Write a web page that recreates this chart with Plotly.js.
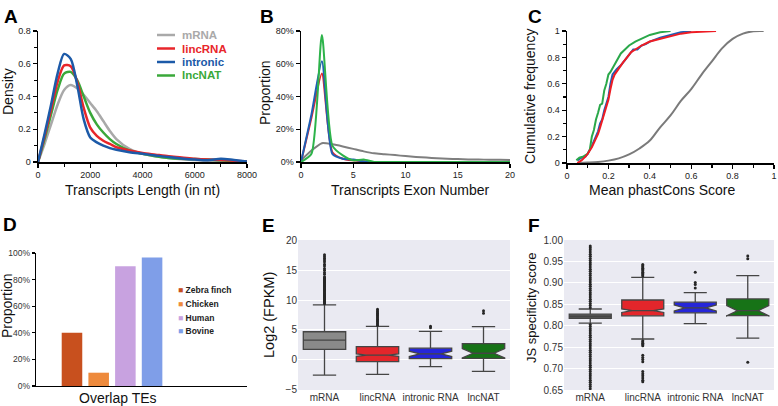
<!DOCTYPE html>
<html>
<head>
<meta charset="utf-8">
<script src="https://cdn.plot.ly/plotly-3.0.1.min.js"></script>
<style>html,body{margin:0;padding:0;background:#fff;}#chart{width:778px;height:406px;}</style>
</head>
<body>
<div id="chart"></div>
<script>
// ---------- Data ----------
const seriesNames = ['mRNA', 'lincRNA', 'intronic', 'lncNAT'];
// Panel A: transcript length density
const lenX = [0,250,500,750,1000,1250,1500,1750,2000,2250,2500,2750,3000,3500,4000,4500,5000,5500,6000,6500,7000,7500,8000];
const lenMRNA     = [0,0.11,0.23,0.35,0.44,0.47,0.45,0.41,0.36,0.31,0.25,0.19,0.14,0.08,0.05,0.035,0.025,0.017,0.012,0.008,0.006,0.004,0.002];
const lenLincRNA  = [0,0.155,0.32,0.49,0.59,0.585,0.49,0.33,0.21,0.16,0.13,0.11,0.09,0.07,0.055,0.045,0.035,0.028,0.02,0.015,0.012,0.008,0.003];
const lenIntronic = [0,0.17,0.35,0.54,0.66,0.63,0.47,0.26,0.15,0.12,0.10,0.085,0.075,0.06,0.05,0.04,0.03,0.022,0.015,0.01,0.02,0.012,0.003];
const lenLncNAT   = [0,0.14,0.29,0.44,0.54,0.55,0.50,0.40,0.30,0.23,0.18,0.14,0.11,0.07,0.05,0.035,0.025,0.02,0.018,0.015,0.01,0.006,0.002];
// Panel B: exon number proportion (%)
const exonX = [0,1,2,3,4,5,6,7,8,9,10,11,12,13,14,15,16,17,18,19,20];
const exonMRNA     = [1,7,11.5,10.8,9.5,8,6.5,5.3,4.8,4.2,3.6,3.1,2.7,2.3,2.0,1.8,1.6,1.5,1.4,1.3,1.2];
const exonLincRNA  = [0,27,54,6,2,1,0.5,0,0,0,0,0,0,0,0,0,0,0,0,0,0];
const exonIntronic = [0,29,61.5,5,2,1.5,0.3,0,0,0,0,0,0,0,0,0,0,0,0,0,0];
const exonLncNAT   = [0,5,77.5,10,4,1,1.5,0,0,0,0,0,0,0,0,0,0,0,0,0,0];
// Panel C: cumulative frequency of mean phastCons score
const consMRNAx = [0.05,0.1,0.15,0.2,0.25,0.3,0.35,0.4,0.45,0.5,0.55,0.6,0.65,0.7,0.75,0.8,0.85,0.9,0.95];
const consMRNAy = [0,0.003,0.008,0.018,0.035,0.065,0.11,0.17,0.27,0.36,0.47,0.56,0.67,0.77,0.87,0.94,0.98,0.998,1];
const consLncNATx = [0.045,0.06,0.08,0.1,0.11,0.12,0.13,0.14,0.15,0.16,0.17,0.18,0.19,0.2,0.21,0.22,0.24,0.26,0.28,0.3,0.33,0.36,0.4,0.45,0.5];
const consLncNATy = [0.02,0.04,0.05,0.07,0.1,0.2,0.25,0.33,0.38,0.44,0.45,0.55,0.6,0.67,0.69,0.72,0.77,0.83,0.86,0.89,0.92,0.94,0.97,0.99,1.0];
const consLincx = [0.05,0.07,0.09,0.1,0.12,0.14,0.15,0.16,0.17,0.18,0.19,0.2,0.21,0.22,0.23,0.25,0.27,0.29,0.31,0.33,0.36,0.4,0.45,0.5,0.55,0.6,0.65,0.72];
const consLincy = [0,0.02,0.05,0.07,0.12,0.18,0.22,0.27,0.32,0.38,0.43,0.48,0.56,0.63,0.67,0.72,0.76,0.8,0.84,0.86,0.89,0.92,0.94,0.96,0.98,0.99,0.995,1.0];
const consIntrx = [0.05,0.07,0.09,0.1,0.12,0.14,0.15,0.16,0.17,0.18,0.19,0.2,0.21,0.22,0.24,0.26,0.28,0.3,0.32,0.34,0.36,0.38,0.4,0.45,0.5,0.55,0.6];
const consIntry = [0.02,0.04,0.05,0.07,0.13,0.2,0.24,0.3,0.33,0.4,0.45,0.5,0.6,0.67,0.71,0.74,0.78,0.82,0.86,0.86,0.89,0.9,0.92,0.95,0.97,0.99,1.0];
// Panel D: overlap with TEs
const teCategory = 'Overlap TEs';
const teSpecies = ['Zebra finch', 'Chicken', 'Human', 'Bovine'];
const teValues = [40, 10, 90, 96.7];
// Panel E/F categories
const boxCats = ['mRNA', 'lincRNA', 'intronic RNA', 'lncNAT'];
// Panel E: Log2(FPKM)
const exprQ1   = [1.75, -0.3, 0.2, 0.25];
const exprMed  = [3.3, 0.8, 1.0, 1.1];
const exprQ3   = [4.7, 2.2, 1.95, 2.7];
const exprLow  = [-2.55, -2.45, -1.15, -1.95];
const exprHigh = [9.2, 5.6, 4.75, 5.55];
const exprNotch = [0, 0.2, 0.45, 0.8];
const exprOutMRNA = [9.4,9.55,9.7,9.85,10.0,10.15,10.3,10.45,10.6,10.75,10.9,11.05,11.2,11.35,11.5,11.65,11.8,11.95,12.1,12.25,12.4,12.55,12.7,12.85,13.0,13.15,13.3,13.45,13.6,13.75,13.9,14.3,14.6,15.0,15.3,15.7,16.0,16.4,16.7,17.0,17.3,17.6];
const exprOutLinc = [5.8,6.0,6.2,6.4,6.6,6.8,7.0,7.2,7.4,7.6,7.8,8.0,8.2,8.45];
const exprOutIntr = [5.35,5.6];
const exprOutNAT  = [7.8,8.2];
// Panel F: JS specificity score
const jsQ1   = [0.817, 0.823, 0.830, 0.8235];
const jsMed  = [0.822, 0.835, 0.8415, 0.835];
const jsQ3   = [0.827, 0.860, 0.855, 0.8625];
const jsLow  = [0.806, 0.769, 0.805, 0.771];
const jsHigh = [0.839, 0.913, 0.877, 0.917];
const jsNotch = [0, 0.004, 0.007, 0.012];
const jsOutMRNA = [0.842,0.847,0.852,0.857,0.862,0.867,0.872,0.877,0.882,0.887,0.892,0.897,0.902,0.907,0.912,0.917,0.922,0.927,0.932,0.937,0.942,0.947,0.952,0.957,0.962,0.967,0.972,0.977,0.982,0.986,
  0.803,0.798,0.793,0.788,0.783,0.778,0.773,0.768,0.763,0.758,0.753,0.748,0.743,0.738,0.733,0.728,0.723,0.718,0.713,0.708,0.703,0.698,0.693,0.688,0.683,0.678,0.673,0.668,0.663,0.658,0.653];
const jsOutLinc = [0.916,0.919,0.922,0.925,0.928,0.931,0.934,0.937,0.940,0.943,0.765,0.762,0.759,0.756,0.753,0.731,0.726,0.721,0.716,0.693,0.688,0.683,0.678,0.673,0.669];
const jsOutIntr = [0.888,0.896,0.901,0.925];
const jsOutNAT  = [0.956,0.9625,0.715];

// ---------- Styles ----------
const W = 778, H = 406;
const px = x => x / W;
const py = y => 1 - y / H;
const FONT = 'Liberation Sans, Arial, sans-serif';
const colA = ['#a9a9a9', '#e8262b', '#1c5aa8', '#3aa83a'];
const colB = ['#7f7f7f', '#e8262b', '#1f5fb5', '#2db34a'];
const colC = ['#7a7a7a', '#ee1c24', '#1f5fb5', '#2aa84a'];
const teColors = ['#c8501e', '#ee8a3c', '#c8a2e0', '#7f9ee8'];
const boxFillE = ['#8a8a8a', '#e3262b', '#2626d9', '#177317'];
const boxFillF = ['#555555', '#e3262b', '#2626d9', '#177317'];

const traces = [];
// Panel A
const lenSeries = [lenMRNA, lenLincRNA, lenIntronic, lenLncNAT];
[0, 3, 1, 2].forEach(i => traces.push({
  type: 'scatter', mode: 'lines', x: lenX, y: lenSeries[i], xaxis: 'x', yaxis: 'y',
  name: seriesNames[i], line: {color: colA[i], width: 2.5, shape: 'spline', smoothing: 0.8}, hoverinfo: 'skip'
}));
// Panel B
const exonSeries = [exonMRNA, exonLincRNA, exonIntronic, exonLncNAT];
[0, 1, 2, 3].forEach(i => traces.push({
  type: 'scatter', mode: 'lines', x: exonX, y: exonSeries[i], xaxis: 'x2', yaxis: 'y2',
  name: seriesNames[i], line: {color: colB[i], width: 2, shape: 'spline', smoothing: 0.6}, hoverinfo: 'skip'
}));
// Panel C
const consSeries = [[consMRNAx, consMRNAy, 0, 'spline'], [consIntrx, consIntry, 2, 'linear'], [consLncNATx, consLncNATy, 3, 'linear'], [consLincx, consLincy, 1, 'linear']];
consSeries.forEach(s => traces.push({
  type: 'scatter', mode: 'lines', x: s[0], y: s[1], xaxis: 'x3', yaxis: 'y3',
  name: seriesNames[s[2]], line: {color: colC[s[2]], width: 2, shape: s[3]}, hoverinfo: 'skip'
}));
// Panel D
teSpecies.forEach((sp, i) => traces.push({
  type: 'bar', x: [teCategory], y: [teValues[i]], xaxis: 'x4', yaxis: 'y4', name: sp,
  marker: {color: teColors[i], line: {width: 0}}, hoverinfo: 'skip'
}));
// Panel E & F boxes
function addBoxes(q1, med, q3, lo, hi, notch, fills, outs, xa, ya) {
  boxCats.forEach((c, i) => {
    traces.push({
      type: 'box', x: [c], q1: [q1[i]], median: [med[i]], q3: [q3[i]],
      lowerfence: [lo[i]], upperfence: [hi[i]],
      notched: notch[i] > 0, notchspan: [notch[i] > 0 ? notch[i] : 0.0001], notchwidth: 0.25,
      xaxis: xa, yaxis: ya, width: 0.8, whiskerwidth: 0.55, boxpoints: false,
      fillcolor: fills[i], line: {color: '#454545', width: 1.3}, name: c, hoverinfo: 'skip'
    });
    traces.push({
      type: 'scatter', mode: 'markers', x: outs[i].map(() => c), y: outs[i], xaxis: xa, yaxis: ya,
      marker: {color: '#262626', size: 3}, name: c + ' outliers', hoverinfo: 'skip', cliponaxis: true
    });
  });
}
addBoxes(exprQ1, exprMed, exprQ3, exprLow, exprHigh, exprNotch, boxFillE,
  [exprOutMRNA, exprOutLinc, exprOutIntr, exprOutNAT], 'x5', 'y5');
addBoxes(jsQ1, jsMed, jsQ3, jsLow, jsHigh, jsNotch, boxFillF,
  [jsOutMRNA, jsOutLinc, jsOutIntr, jsOutNAT], 'x6', 'y6');

// ---------- Layout ----------
const tickF = {family: FONT, size: 9, color: '#222'};
const lineAx = (extra) => Object.assign({
  showline: true, linecolor: '#000', linewidth: 1.5, ticks: 'outside', ticklen: 4, tickwidth: 1.2,
  tickcolor: '#000', showgrid: false, zeroline: false, tickfont: tickF, fixedrange: true
}, extra);
const seabornY = (extra) => Object.assign({
  showline: false, ticks: '', showgrid: true, gridcolor: '#ffffff', gridwidth: 1, zeroline: false,
  tickfont: {family: FONT, size: 10, color: '#333'}, fixedrange: true
}, extra);
const seabornX = (extra) => Object.assign({
  type: 'category', categoryorder: 'array', categoryarray: boxCats, range: [-0.5, 3.5],
  showline: false, ticks: '', showgrid: false, zeroline: false,
  tickfont: {family: FONT, size: 10, color: '#333'}, fixedrange: true
}, extra);

const layout = {
  width: W, height: H, margin: {l: 0, r: 0, t: 0, b: 0},
  paper_bgcolor: '#ffffff', plot_bgcolor: 'rgba(0,0,0,0)', showlegend: false,
  font: {family: FONT, color: '#1a1a1a'},
  barmode: 'group', bargap: 0.5, bargroupgap: 0.23, boxmode: 'overlay',
  xaxis: lineAx({domain: [px(38), px(247)], range: [0, 8000], tickvals: [0, 2000, 4000, 6000, 8000], minor: {dtick: 1000, ticks: 'outside', ticklen: 3, tickcolor: '#000'}}),
  yaxis: lineAx({domain: [py(162), py(31)], range: [0, 0.8], dtick: 0.2, minor: {dtick: 0.1, ticks: 'outside', ticklen: 3, tickcolor: '#000'}}),
  xaxis2: lineAx({domain: [px(301), px(510)], range: [0, 20], dtick: 5, anchor: 'y2'}),
  yaxis2: lineAx({domain: [py(162), py(31)], range: [0, 80], dtick: 20, ticksuffix: '%', anchor: 'x2'}),
  xaxis3: lineAx({domain: [px(567), px(774)], range: [0, 1], dtick: 0.2, anchor: 'y3', minor: {dtick: 0.1, ticks: 'outside', ticklen: 3, tickcolor: '#000'}}),
  yaxis3: lineAx({domain: [py(163), py(31)], range: [0, 1], dtick: 0.2, anchor: 'x3', minor: {dtick: 0.1, ticks: 'outside', ticklen: 3, tickcolor: '#000'}}),
  xaxis4: lineAx({domain: [px(36), px(247)], type: 'category', range: [-0.356, 0.632], ticks: '', showticklabels: false, anchor: 'y4', linewidth: 1.3}),
  yaxis4: lineAx({domain: [py(386), py(253)], range: [0, 100], dtick: 20, ticksuffix: '%', anchor: 'x4', linewidth: 1.3, ticklen: 3, tickfont: {family: FONT, size: 8.5, color: '#333'}}),
  xaxis5: seabornX({domain: [px(298), px(510)], anchor: 'y5'}),
  yaxis5: seabornY({domain: [py(390), py(240)], range: [-5.05, 20.05], dtick: 5, anchor: 'x5'}),
  xaxis6: seabornX({domain: [px(564), px(774)], anchor: 'y6'}),
  yaxis6: seabornY({domain: [py(390), py(240)], range: [0.65, 1.0], dtick: 0.05, tickformat: '.2f', anchor: 'x6'}),
  shapes: [],
  annotations: []
};

// seaborn backgrounds
['5', '6'].forEach(k => layout.shapes.push({
  type: 'rect', xref: 'x' + k + ' domain', yref: 'y' + k + ' domain', x0: 0, x1: 1, y0: 0, y1: 1,
  fillcolor: '#eaeaf2', line: {width: 0}, layer: 'below'
}));

// Panel A legend (lines + coloured labels)
const legAy = [35, 48.5, 62, 75.5];
seriesNames.forEach((n, i) => {
  layout.shapes.push({type: 'line', xref: 'paper', yref: 'paper', x0: px(157), x1: px(175), y0: py(legAy[i]), y1: py(legAy[i]),
    line: {color: colA[i], width: 2.5}});
  layout.annotations.push({xref: 'paper', yref: 'paper', x: px(181), y: py(legAy[i]), xanchor: 'left', yanchor: 'middle',
    text: '<b>' + n + '</b>', showarrow: false, borderpad: 0, font: {family: FONT, size: 11.5, color: colA[i]}});
});
// Panel D legend
const legDy = [290, 304, 317.5, 331];
teSpecies.forEach((n, i) => {
  layout.annotations.push({xref: 'paper', yref: 'paper', x: px(177), y: py(legDy[i]), xanchor: 'left', yanchor: 'middle',
    text: '<span style="color:' + teColors[i] + '">■</span> <b>' + n + '</b>', showarrow: false, borderpad: 0,
    font: {family: FONT, size: 8.5, color: '#222'}});
});

// panel letters
const letters = [['A', 2, 4], ['B', 258, 4], ['C', 526, 4], ['D', 1, 212], ['E', 260, 213], ['F', 526, 213]];
letters.forEach(l => layout.annotations.push({xref: 'paper', yref: 'paper', x: px(l[1]), y: py(l[2]), xanchor: 'left', yanchor: 'top',
  text: '<b>' + l[0] + '</b>', showarrow: false, font: {family: FONT, size: 19, color: '#000'}}));

// axis titles
function title(t, x, y, angle, size) {
  layout.annotations.push({xref: 'paper', yref: 'paper', x: px(x), y: py(y), xanchor: 'center', yanchor: 'middle',
    text: t, textangle: angle, showarrow: false, font: {family: FONT, size: size, color: '#111'}});
}
title('Transcripts Length (in nt)', 142, 190, 0, 14);
title('Density', 8, 92, -90, 14);
title('Transcripts Exon Number', 410, 190, 0, 14);
title('Proportion', 265, 93, -90, 14);
title('Mean phastCons Score', 662, 190, 0, 14);
title('Cumulative frequency', 530, 97, -90, 14);
title('Proportion', 7, 306, -90, 14);
title('Overlap TEs', 118, 398, 0, 14);
title('Log2 (FPKM)', 269, 315, -90, 14.5);
title('JS specificity score', 531, 308, -90, 13);

Plotly.newPlot('chart', traces, layout, {staticPlot: true, displayModeBar: false});
</script>
</body>
</html>
